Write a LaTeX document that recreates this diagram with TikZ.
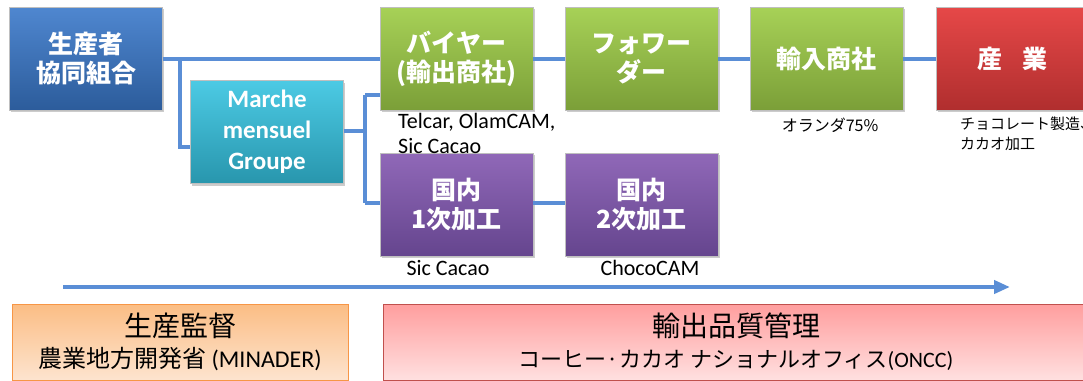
\documentclass[tikz,border=0pt]{standalone}
\usepackage{fontspec}
\setmainfont{Carlito}
\newfontfamily\jp{Noto Sans CJK JP}
\usetikzlibrary{shadows,arrows.meta}
\definecolor{lnc}{HTML}{5A8ED6}
\definecolor{prodT}{HTML}{4F87D0}
\definecolor{prodB}{HTML}{2C5C9B}
\definecolor{marT}{HTML}{4CCAE4}
\definecolor{marB}{HTML}{2896AD}
\definecolor{grnT}{HTML}{A7D157}
\definecolor{grnB}{HTML}{7B9F38}
\definecolor{redT}{HTML}{E64848}
\definecolor{redB}{HTML}{B02E2E}
\definecolor{purT}{HTML}{9068B8}
\definecolor{purB}{HTML}{65458E}
\definecolor{orT}{HTML}{FBBD84}
\definecolor{orB}{HTML}{FDE4CF}
\definecolor{orE}{HTML}{F79646}
\definecolor{pkT}{HTML}{FF9E9E}
\definecolor{pkB}{HTML}{FFE0E0}
\definecolor{pkE}{HTML}{C0504D}
\begin{document}
\begin{tikzpicture}[x=1pt,y=-1pt,
  box/.style={rectangle, minimum width=153pt, minimum height=103pt, inner sep=0pt,
    text=white, align=center, font=\jp\bfseries\fontsize{25}{29}\selectfont,
    draw=black!25, line width=0.3pt,
    drop shadow={opacity=0.4, shadow xshift=1.5pt, shadow yshift=-2pt}},
  lbl/.style={inner sep=0pt, font=\fontsize{22}{25}\selectfont, text=black},
  jlbl/.style={inner sep=0pt, font=\jp\fontsize{16}{20}\selectfont, text=black, align=left},
  conn/.style={draw=lnc, line width=4pt},
  band/.style={rectangle, inner sep=0pt, align=center, text=black, line width=1pt},
  bandtext/.style={inner sep=0pt, align=center, text=black, font=\fontsize{24}{31}\selectfont}]
\useasboundingbox (0,0) rectangle (1083,380);

% main boxes
\node[box, top color=prodT, bottom color=prodB] (prod) at (86,58.5) {生産者\\協同組合};
\node[box, top color=marT, bottom color=marB, font=\bfseries\fontsize{25}{31}\selectfont] (marche) at (267,132) {Marche\\mensuel\\Groupe};
\node[box, top color=grnT, bottom color=grnB] (buyer) at (456.5,58.5) {バイヤー\\(輸出商社)};
\node[box, top color=grnT, bottom color=grnB] (fwd) at (641.5,58.5) {フォワー\\ダー};
\node[box, top color=grnT, bottom color=grnB] (imp) at (826.5,58.5) {輸入商社};
\node[box, top color=redT, bottom color=redB] (ind) at (1012.5,58.5) {産\hspace{0.8em}業};
\node[box, top color=purT, bottom color=purB] (dom1) at (456.5,204.5) {国内\\1次加工};
\node[box, top color=purT, bottom color=purB] (dom2) at (641.5,204.5) {国内\\2次加工};

% connectors
\coordinate (br) at (180,58.5);
\coordinate (vt) at (365,95);
\coordinate (vb) at (365,203);
\coordinate (vm) at (365,131);
\draw[conn] (prod.east) -- (buyer.west);
\draw[conn] (br) |- ([yshift=-15pt]marche.west);
\draw[conn] (marche.east |- vm) -- (vm);
\draw[conn] (vt) -- (vb);
\draw[conn] (vt) -- (vt -| buyer.west);
\draw[conn] (vb) -- (vb -| dom1.west);
\draw[conn] (dom1.east |- vb) -- (vb -| dom2.west);
\draw[conn] (buyer.east) -- (fwd.west);
\draw[conn] (fwd.east) -- (imp.west);
\draw[conn] (imp.east) -- (ind.west);

% labels
\node[lbl, anchor=base west, align=left] (l1) at (398,153) {Telcar, OlamCAM,\\Sic Cacao};
\node[jlbl, anchor=base] (l2) at (830,131) {オランダ75\%};
\node[jlbl, anchor=north west, font=\jp\fontsize{15}{20}\selectfont] (l3) at (960,117) {チョコレート製造、\\カカオ加工};
\node[lbl, anchor=base] (l4) at (448,275) {Sic Cacao};
\node[lbl, anchor=base] (l5) at (650,275) {ChocoCAM};

% arrow
\coordinate (a0) at (63,287);
\coordinate (a1) at (1010,287);
\draw[draw=lnc, line width=4pt, -{Triangle[length=16pt,width=13pt]}] (a0) -- (a1);

% bottom bands
\node[band, draw=orE, top color=orT, middle color=orT, bottom color=orB, minimum width=336pt, minimum height=76pt] (sup) at (180,342) {};
\node[band, draw=pkE, top color=pkT, middle color=pkT, bottom color=pkB, minimum width=710pt, minimum height=76pt] (exq) at (738,342) {};
\node[bandtext] (supt) at (180,342) {{\jp\fontsize{28}{31}\selectfont 生産監督}\\{\jp 農業地方開発省}\ (MINADER)};
\node[bandtext, font=\fontsize{22}{31}\selectfont] (exqt) at (736,342) {{\jp\fontsize{28}{31}\selectfont 輸出品質管理}\\{\jp コーヒー·カカオ ナショナルオフィス}(ONCC)};
\end{tikzpicture}
\end{document}
